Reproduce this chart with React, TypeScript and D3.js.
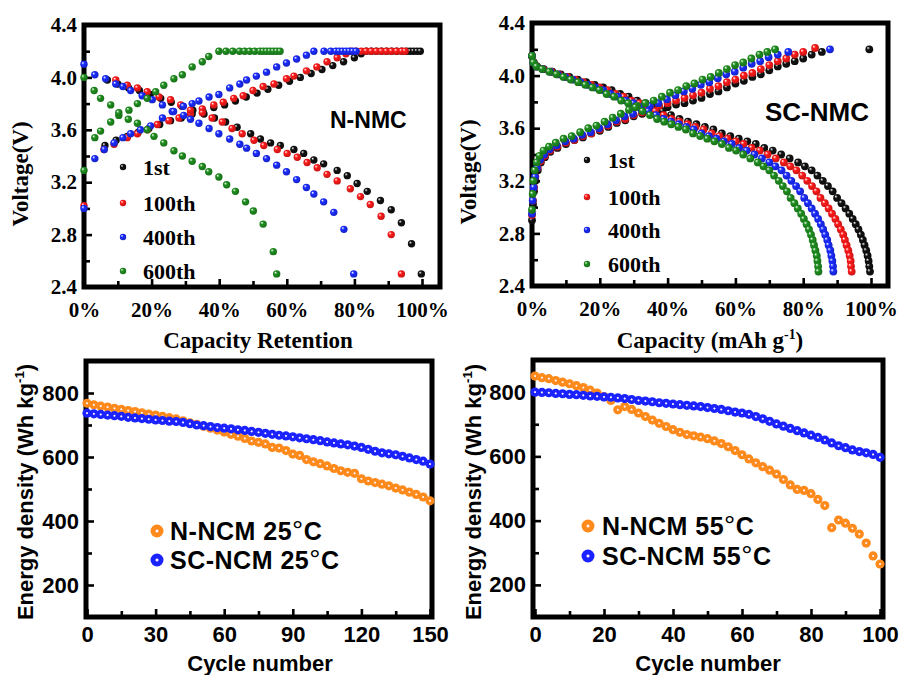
import React, { useEffect, useRef } from "react";
import * as d3 from "d3";

type Pt = [number, number];

// ---------- top left: N-NMC, capacity retention (%) vs voltage (V)
const nmcCharge1st: Pt[] = [[6.2,3.48],[9.5,3.52],[12.8,3.55],[16,3.58],[19.2,3.61],[22.4,3.64],[25.6,3.67],[28.8,3.69],[32,3.72],[35.2,3.74],[38.4,3.77],[41.6,3.79],[44.8,3.82],[48,3.85],[51.2,3.88],[54.4,3.91],[57.6,3.94],[60.8,3.97],[64,4.0],[67.2,4.03],[70.4,4.06],[73.6,4.09],[76.8,4.12],[80,4.15],[82,4.18],[83.5,4.2],[85,4.2],[86.5,4.2],[88,4.2],[89.5,4.2],[91,4.2],[92.5,4.2],[94,4.2],[95.5,4.2],[96.5,4.2],[97.5,4.2],[98.5,4.2],[99.5,4.2]];
const nmcDischarge1st: Pt[] = [[6.9,3.98],[10,3.95],[13.2,3.92],[16.4,3.9],[19.6,3.87],[22.7,3.84],[25.8,3.81],[29,3.78],[32.2,3.75],[35.5,3.72],[38.6,3.69],[41.9,3.66],[45.3,3.62],[49.3,3.57],[52.2,3.53],[55.2,3.5],[58.1,3.48],[62.1,3.45],[65,3.42],[68,3.37],[70.9,3.34],[74.9,3.29],[77.9,3.25],[80.8,3.19],[83.8,3.13],[87.7,3.06],[90.9,2.99],[93.9,2.89],[96.9,2.73],[99.8,2.5]];
const nmcCharge100th: Pt[] = [[0,3.02],[5.9,3.45],[8.9,3.49],[12.8,3.54],[15.8,3.57],[18.8,3.6],[21.7,3.64],[25.1,3.67],[28.1,3.69],[31.5,3.72],[35,3.76],[38.4,3.79],[41.2,3.81],[44.3,3.84],[47.1,3.86],[50,3.9],[53,3.93],[56.2,3.95],[59.9,3.99],[62.1,4.01],[65.8,4.05],[68.9,4.08],[71.9,4.12],[74.9,4.15],[77.5,4.18],[79,4.2],[80.5,4.2],[82,4.2],[83.5,4.2],[85,4.2],[86.5,4.2],[88,4.2],[89.5,4.2],[91,4.2],[92.5,4.2],[94,4.2],[95,4.2]];
const nmcDischarge100th: Pt[] = [[9.4,3.98],[12.8,3.94],[15.8,3.92],[18.7,3.89],[22.2,3.85],[25.6,3.83],[28.6,3.79],[31.5,3.75],[35,3.73],[37.9,3.69],[40.9,3.66],[43.8,3.61],[46.8,3.57],[50.3,3.52],[53.2,3.48],[57.2,3.45],[60.1,3.42],[63.1,3.39],[66,3.35],[69,3.31],[71.9,3.26],[74.9,3.21],[78.8,3.15],[81.8,3.09],[84.7,3.03],[87.9,2.94],[90.9,2.8],[93.9,2.5]];
const nmcCharge400th: Pt[] = [[0,3.0],[3.2,3.38],[6,3.45],[8.9,3.5],[11.5,3.54],[13.8,3.57],[16.7,3.6],[19.7,3.63],[23.2,3.69],[26.1,3.74],[29.4,3.78],[32,3.8],[34,3.82],[37,3.85],[39.9,3.87],[43.1,3.92],[46.1,3.95],[48.1,3.98],[51,4.01],[54,4.04],[57,4.08],[59.9,4.11],[62.9,4.14],[65.8,4.17],[68,4.2],[71,4.2],[73,4.2],[74.5,4.2],[75.5,4.2],[76.5,4.2],[77.5,4.2],[78.5,4.2],[79.5,4.2],[80.5,4.2]];
const nmcDischarge400th: Pt[] = [[0,4.1],[3.2,4.02],[6.4,3.99],[9.4,3.95],[11.5,3.93],[13.8,3.9],[17.2,3.86],[20.2,3.83],[23.2,3.79],[26.5,3.74],[29.5,3.71],[31.5,3.68],[34,3.65],[37,3.61],[39.9,3.57],[43.1,3.53],[46.1,3.49],[48.1,3.46],[51,3.42],[54,3.38],[57,3.33],[59.9,3.28],[62.9,3.22],[65.8,3.16],[68,3.11],[70.9,3.05],[73.9,2.97],[76.9,2.84],[79.8,2.5]];
const nmcCharge600th: Pt[] = [[0,3.29],[3.2,3.54],[4.9,3.59],[7.9,3.66],[10.3,3.71],[13.3,3.75],[15.8,3.8],[18.7,3.84],[21.2,3.89],[23.6,3.94],[26.6,3.99],[29.1,4.02],[32,4.08],[35,4.12],[36.9,4.16],[39.9,4.2],[42,4.2],[44,4.2],[46,4.2],[47.5,4.2],[49,4.2],[50.5,4.2],[52,4.2],[53,4.2],[54,4.2],[55,4.2],[56,4.2],[57,4.2],[58,4.2]];
const nmcDischarge600th: Pt[] = [[0,4.0],[3,3.9],[4.9,3.84],[7.9,3.79],[10.3,3.73],[13.1,3.68],[15.8,3.65],[18.7,3.6],[20.7,3.55],[23.6,3.5],[26.6,3.44],[29.1,3.4],[32,3.36],[35,3.32],[36.9,3.28],[39.9,3.24],[42.2,3.18],[44.8,3.13],[47.8,3.05],[50.1,2.98],[53,2.88],[56,2.67],[57,2.5]];

// ---------- top right: SC-NMC, capacity (%) vs voltage (V)
const scCharge1st: Pt[] = [[0,2.9],[0.3,3.02],[0.6,3.12],[1,3.2],[1.7,3.28],[2.6,3.34],[3.8,3.38],[5.4,3.42],[7.5,3.45],[10,3.48],[12.5,3.51],[15,3.53],[17.5,3.56],[20,3.58],[22.5,3.61],[25,3.64],[27.5,3.66],[30,3.69],[32.5,3.71],[35,3.73],[37.5,3.75],[40,3.76],[42.5,3.78],[45,3.79],[47.5,3.81],[50,3.83],[52.5,3.86],[55,3.88],[57.5,3.91],[60,3.94],[62.5,3.96],[65,3.99],[67.5,4.01],[70,4.04],[72.5,4.07],[75,4.09],[77.5,4.11],[80,4.13],[82.5,4.16],[85.5,4.18],[99.5,4.2]];
const scCharge100th: Pt[] = [[0,2.94],[0.3,3.05],[0.6,3.15],[1,3.23],[1.7,3.3],[2.6,3.35],[3.8,3.39],[5.4,3.43],[7.5,3.46],[10,3.49],[12.5,3.51],[15,3.54],[17.5,3.56],[20,3.59],[22.5,3.62],[25,3.65],[27.5,3.67],[30,3.7],[32.5,3.72],[35,3.75],[37.5,3.77],[40,3.79],[42.5,3.81],[45,3.83],[47.5,3.85],[50,3.87],[52.5,3.9],[55,3.92],[57.5,3.95],[60,3.97],[62.5,4.0],[65,4.02],[67.5,4.05],[70,4.08],[72.5,4.11],[75,4.13],[77.5,4.16],[80,4.18],[83.5,4.21]];
const scCharge400th: Pt[] = [[0,2.95],[0.2,3.05],[0.5,3.15],[0.9,3.23],[1.5,3.3],[2.4,3.36],[3.6,3.4],[5.2,3.44],[7.3,3.47],[9.8,3.5],[12.3,3.52],[14.8,3.55],[17.3,3.57],[19.8,3.6],[22.3,3.63],[24.8,3.66],[27.3,3.69],[29.8,3.71],[32.3,3.74],[34.8,3.77],[37.3,3.79],[39.8,3.82],[42.3,3.85],[44.8,3.88],[47.3,3.9],[49.8,3.93],[52.3,3.95],[54.8,3.98],[57.3,4.01],[59.8,4.03],[62.3,4.06],[64.8,4.09],[67.3,4.11],[69.8,4.14],[72.5,4.16],[75.6,4.18],[87.9,4.2]];
const scCharge600th: Pt[] = [[0,2.98],[0.2,3.1],[0.4,3.2],[0.8,3.28],[1.4,3.34],[2.2,3.39],[3.4,3.43],[5,3.46],[7,3.49],[9.3,3.52],[11.7,3.54],[14.2,3.57],[16.6,3.6],[19,3.62],[21.4,3.65],[23.8,3.68],[26.2,3.71],[28.6,3.74],[31,3.77],[33.4,3.79],[35.9,3.81],[38.3,3.84],[40.7,3.87],[43.1,3.89],[45.5,3.92],[47.9,3.94],[50.3,3.97],[52.7,3.99],[55.1,4.02],[57.5,4.05],[59.9,4.08],[62.3,4.1],[64.7,4.13],[67.1,4.16],[69.4,4.18],[71.7,4.2]];

// discharge: shared voltage readings, capacity read per cycle
const scDischargeV = [4.15,4.1,4.07,4.05,4.03,4.01,3.99,3.97,3.95,3.93,3.91,3.89,3.86,3.84,3.81,3.79,3.76,3.73,3.7,3.67,3.65,3.63,3.61,3.59,3.56,3.54,3.52,3.5,3.48,3.45,3.43,3.4,3.37,3.34,3.31,3.28,3.24,3.2,3.16,3.12,3.07,3.03,2.99,2.95,2.91,2.87,2.83,2.79,2.75,2.71,2.67,2.63,2.59,2.55,2.51];
const scDischargeX1st = [0,0.5,1.5,3.5,6,8.5,11,13.5,16,18.5,21,23.5,26,28.5,31,33.5,36,38.5,41,43.5,46,48.5,51,53.5,56,58.5,61,63.5,66,68.5,71,73.5,76,78.5,80.5,82.5,84.2,85.8,87.3,88.7,90,91.3,92.5,93.6,94.6,95.5,96.3,97,97.6,98.1,98.6,99,99.3,99.5,99.7];
const scDischargeX100th = [0,0.5,1.4,3.3,5.7,8.0,10.4,12.8,15.1,17.5,19.9,22.2,24.6,27.0,29.3,31.7,34.1,36.4,38.8,41.2,43.5,45.9,48.2,50.6,53.0,55.3,57.7,60.1,62.4,64.8,67.2,69.5,71.9,74.3,76.2,78.0,79.7,81.2,82.6,83.9,85.1,86.4,87.5,88.5,89.5,90.3,91.1,91.8,92.3,92.8,93.3,93.7,94.0,94.1,94.3];
const scDischargeX400th = [0,0.4,1.3,3.1,5.4,7.6,9.8,12.0,14.3,16.5,18.7,21.0,23.2,25.4,27.7,29.9,32.1,34.3,36.6,38.8,41.0,43.3,45.5,47.7,50.0,52.2,54.4,56.6,58.9,61.1,63.3,65.6,67.8,70.0,71.8,73.6,75.1,76.5,77.9,79.1,80.3,81.4,82.5,83.5,84.4,85.2,85.9,86.5,87.1,87.5,88.0,88.3,88.6,88.8,88.9];
const scDischargeX600th = [0,0.4,1.3,3.0,5.1,7.2,9.3,11.4,13.6,15.7,17.8,19.9,22.0,24.2,26.3,28.4,30.5,32.6,34.8,36.9,39.0,41.1,43.2,45.4,47.5,49.6,51.7,53.8,56.0,58.1,60.2,62.3,64.4,66.6,68.3,70.0,71.4,72.8,74.0,75.2,76.3,77.4,78.4,79.4,80.2,81.0,81.7,82.3,82.8,83.2,83.6,84.0,84.2,84.4,84.5];

const cycleNames = ["1st", "100th", "400th", "600th"];
const cycleColors = ["#111111", "#ff1a1a", "#1a2cff", "#1f8f1f"];
const pctTicks = [0, 20, 40, 60, 80, 100];
const pctMinor = [10, 30, 50, 70, 90];
const voltTicks = [2.4, 2.8, 3.2, 3.6, 4.0, 4.4];
const voltMinor = [2.6, 3.0, 3.4, 3.8, 4.2];

// ---------- bottom: energy density vs cycle number
const cycles25 = [0,3,6,9,12,15,18,21,24,27,30,33,36,39,42,45,48,51,54,57,60,63,66,69,72,75,78,81,84,87,90,93,96,99,102,105,108,111,114,117,120,123,126,129,132,135,138,141,144,147,150];
const nncm25 = [768,763,759,756,752,749,745,742,738,734,731,727,723,719,713,707,702,696,690,684,678,671,665,658,650,646,641,630,628,620,609,605,592,585,579,572,564,557,552,549,532,525,520,515,510,503,497,490,483,475,463];
const scncm25 = [737,735,733,731,729,727,724,722,720,718,716,714,712,711,708,704,700,698,695,692,690,688,685,683,680,677,674,671,668,666,663,660,657,654,651,647,644,641,638,634,630,624,618,613,610,607,602,597,592,587,578];
const cycles55 = [0,2,4,6,8,10,12,14,16,18,20,22,24,26,28,30,32,34,36,38,40,42,44,46,48,50,52,54,56,58,60,62,64,66,68,70,72,74,76,78,80,82,84,86,88,90,92,94,96,98,100];
const nncm55 = [850,845,842,836,831,826,820,814,806,797,786,774,745,755,746,735,724,713,703,693,683,675,668,664,660,655,648,640,630,618,605,592,580,568,557,545,528,511,497,494,484,466,447,378,402,392,376,358,330,290,265];
const scncm55 = [800,799,798,796,795,793,792,790,788,787,785,784,782,780,777,774,772,770,767,765,763,761,759,757,755,752,749,746,742,738,735,731,724,717,709,701,694,687,680,673,666,659,651,642,633,627,620,615,611,606,597];
const energyTicks = [200, 400, 600, 800];
const energyMinor = [300, 500, 700];

const SERIF = "'Liberation Serif', 'Times New Roman', serif";
const SANS = "'Liberation Sans', Arial, sans-serif";

type PanelCfg = {
  frame: { left: number; right: number; top: number; bottom: number };
  xRange: [number, number];
  yRange: [number, number];
  xDomain: [number, number];
  yDomain: [number, number];
  xTicks: number[]; xMinor: number[];
  yTicks: number[]; yMinor: number[];
};

const panels: PanelCfg[] = [
  { frame: { left: 84, right: 440, top: 25, bottom: 287 }, xRange: [84, 422], yRange: [287, 25],
    xDomain: [0, 100], yDomain: [2.4, 4.4], xTicks: pctTicks, xMinor: pctMinor, yTicks: voltTicks, yMinor: voltMinor },
  { frame: { left: 532, right: 888, top: 23, bottom: 286 }, xRange: [532, 871], yRange: [286, 23],
    xDomain: [0, 100], yDomain: [2.4, 4.4], xTicks: pctTicks, xMinor: pctMinor, yTicks: voltTicks, yMinor: voltMinor },
  { frame: { left: 86, right: 432, top: 361, bottom: 617 }, xRange: [87, 430], yRange: [617, 361],
    xDomain: [0, 150], yDomain: [100, 900], xTicks: [0, 30, 60, 90, 120, 150], xMinor: [15, 45, 75, 105, 135],
    yTicks: energyTicks, yMinor: energyMinor },
  { frame: { left: 533, right: 883, top: 360, bottom: 617 }, xRange: [535, 880], yRange: [617, 360],
    xDomain: [0, 100], yDomain: [100, 900], xTicks: [0, 20, 40, 60, 80, 100], xMinor: [10, 30, 50, 70, 90],
    yTicks: energyTicks, yMinor: energyMinor },
];

type PanelOpts = {
  xFmt: (d: number) => string; yFmt: (d: number) => string;
  font: string; fontSize: number; xPad: number; yPad: number;
  series: { pts: Pt[]; grad: string }[]; r: number;
};

function drawPanel(svg: any, p: PanelCfg, o: PanelOpts) {
  const g = svg.append("g");
  const x = d3.scaleLinear().domain(p.xDomain).range(p.xRange);
  const y = d3.scaleLinear().domain(p.yDomain).range(p.yRange);
  const f = p.frame;

  const styleAxis = (s: any) => {
    s.select(".domain").remove();
    s.selectAll(".tick line").attr("stroke", "#000").attr("stroke-width", 2.6);
    s.selectAll("text")
      .attr("font-family", o.font).attr("font-size", o.fontSize)
      .attr("font-weight", "bold").attr("fill", "#000");
  };

  // minor ticks (inward, no labels)
  g.append("g").attr("transform", `translate(0,${f.bottom})`)
    .call(d3.axisBottom(x).tickValues(p.xMinor).tickSize(-6).tickFormat(() => ""))
    .call(styleAxis);
  g.append("g").attr("transform", `translate(${f.left},0)`)
    .call(d3.axisLeft(y).tickValues(p.yMinor).tickSize(-6).tickFormat(() => ""))
    .call(styleAxis);
  // major ticks with labels
  g.append("g").attr("transform", `translate(0,${f.bottom})`)
    .call(d3.axisBottom(x).tickValues(p.xTicks).tickSize(-8).tickPadding(o.xPad).tickFormat((d: any) => o.xFmt(d)))
    .call(styleAxis);
  g.append("g").attr("transform", `translate(${f.left},0)`)
    .call(d3.axisLeft(y).tickValues(p.yTicks).tickSize(-8).tickPadding(o.yPad).tickFormat((d: any) => o.yFmt(d)))
    .call(styleAxis);

  // thick box
  g.append("rect")
    .attr("x", f.left).attr("y", f.top)
    .attr("width", f.right - f.left).attr("height", f.bottom - f.top)
    .attr("fill", "none").attr("stroke", "#000").attr("stroke-width", 5);

  o.series.forEach((s) => {
    g.append("g").selectAll("circle").data(s.pts).join("circle")
      .attr("cx", (d: Pt) => x(d[0])).attr("cy", (d: Pt) => y(d[1]))
      .attr("r", o.r).attr("fill", `url(#${s.grad})`);
  });
}

function addText(svg: any, x: number, y: number, size: number, font: string, parts: [string, boolean][], anchor = "middle", rotate = false) {
  const t = svg.append("text")
    .attr("x", x).attr("y", y)
    .attr("font-family", font).attr("font-size", size).attr("font-weight", "bold")
    .attr("text-anchor", anchor).attr("dy", "0.35em").attr("fill", "#000");
  if (rotate) t.attr("transform", `rotate(-90 ${x} ${y})`);
  parts.forEach(([s, sup]) => {
    const ts = t.append("tspan").text(s);
    if (sup) ts.attr("font-size", size * 0.6).attr("dy", -size * 0.4);
    else if (s.startsWith(")")) ts.attr("dy", size * 0.4);
  });
  return t;
}

export default function App() {
  const ref = useRef<SVGSVGElement | null>(null);

  useEffect(() => {
    const svg = d3.select(ref.current);
    svg.selectAll("*").remove();

    // shaded ball markers
    const defs = svg.append("defs");
    cycleColors.forEach((col, i) => {
      const gr = defs.append("radialGradient").attr("id", `sph${i}`)
        .attr("cx", "0.45").attr("cy", "0.45").attr("r", "0.6").attr("fx", "0.32").attr("fy", "0.3");
      gr.append("stop").attr("offset", "0").attr("stop-color", "#ffffff");
      gr.append("stop").attr("offset", "0.35").attr("stop-color", col);
      gr.append("stop").attr("offset", "1").attr("stop-color", d3.color(col)!.darker(0.8).toString());
    });
    const ringColors = { orange: "#ff8a1c", blue: "#1a22ff" };
    Object.entries(ringColors).forEach(([k, col]) => {
      const gr = defs.append("radialGradient").attr("id", `ring-${k}`)
        .attr("cx", "0.5").attr("cy", "0.5").attr("r", "0.5");
      gr.append("stop").attr("offset", "0").attr("stop-color", "#ffffff");
      gr.append("stop").attr("offset", "0.12").attr("stop-color", "#fdeff6");
      gr.append("stop").attr("offset", "0.32").attr("stop-color", col);
      gr.append("stop").attr("offset", "1").attr("stop-color", col);
    });

    const pctFmt = (d: number) => `${d}%`;
    const vFmt = d3.format(".1f");
    const intFmt = d3.format("d");
    const zipV = (xs: number[]) => xs.map((v, i) => [v, scDischargeV[i]] as Pt);

    drawPanel(svg, panels[0], {
      xFmt: pctFmt, yFmt: vFmt, font: SERIF, fontSize: 21, xPad: 15, yPad: 7, r: 3.7,
      series: [
        { pts: nmcCharge1st, grad: "sph0" }, { pts: nmcDischarge1st, grad: "sph0" },
        { pts: nmcCharge100th, grad: "sph1" }, { pts: nmcDischarge100th, grad: "sph1" },
        { pts: nmcCharge400th, grad: "sph2" }, { pts: nmcDischarge400th, grad: "sph2" },
        { pts: nmcCharge600th, grad: "sph3" }, { pts: nmcDischarge600th, grad: "sph3" },
      ],
    });
    drawPanel(svg, panels[1], {
      xFmt: pctFmt, yFmt: vFmt, font: SERIF, fontSize: 21, xPad: 15, yPad: 7, r: 3.9,
      series: [
        { pts: scCharge1st, grad: "sph0" }, { pts: zipV(scDischargeX1st), grad: "sph0" },
        { pts: scCharge100th, grad: "sph1" }, { pts: zipV(scDischargeX100th), grad: "sph1" },
        { pts: scCharge400th, grad: "sph2" }, { pts: zipV(scDischargeX400th), grad: "sph2" },
        { pts: scCharge600th, grad: "sph3" }, { pts: zipV(scDischargeX600th), grad: "sph3" },
      ],
    });
    drawPanel(svg, panels[2], {
      xFmt: intFmt, yFmt: intFmt, font: SANS, fontSize: 22, xPad: 9, yPad: 7, r: 4.6,
      series: [
        { pts: cycles25.map((c, i) => [c, nncm25[i]] as Pt), grad: "ring-orange" },
        { pts: cycles25.map((c, i) => [c, scncm25[i]] as Pt), grad: "ring-blue" },
      ],
    });
    drawPanel(svg, panels[3], {
      xFmt: intFmt, yFmt: intFmt, font: SANS, fontSize: 22, xPad: 9, yPad: 7, r: 4.6,
      series: [
        { pts: cycles55.map((c, i) => [c, nncm55[i]] as Pt), grad: "ring-orange" },
        { pts: cycles55.map((c, i) => [c, scncm55[i]] as Pt), grad: "ring-blue" },
      ],
    });

    // axis titles
    addText(svg, 20, 174, 23, SERIF, [["Voltage(V)", false]], "middle", true);
    addText(svg, 468, 172, 23, SERIF, [["Voltage(V)", false]], "middle", true);
    addText(svg, 258, 340, 23, SERIF, [["Capacity Retention", false]]);
    addText(svg, 710, 340, 23, SERIF, [["Capacity (mAh g", false], ["-1", true], [")", false]]);
    addText(svg, 25, 492, 22, SANS, [["Energy density (Wh kg", false], ["-1", true], [")", false]], "middle", true);
    addText(svg, 473, 492, 22, SANS, [["Energy density (Wh kg", false], ["-1", true], [")", false]], "middle", true);
    addText(svg, 260, 663, 22, SANS, [["Cycle number", false]]);
    addText(svg, 708, 663, 22, SANS, [["Cycle number", false]]);

    // panel labels
    addText(svg, 330, 120, 23, SANS, [["N-NMC", false]], "start");
    addText(svg, 765, 112, 26, SANS, [["SC-NMC", false]], "start");

    // top legends
    const legTop = (mx: number, tx: number, ys: number[]) => {
      cycleNames.forEach((name, i) => {
        svg.append("circle").attr("cx", mx).attr("cy", ys[i]).attr("r", 3.2).attr("fill", `url(#sph${i})`);
        addText(svg, tx, ys[i], 22, SERIF, [[name, false]], "start");
      });
    };
    legTop(123, 143, [167, 203, 237, 271]);
    legTop(587, 608, [160, 197, 230, 264]);

    // bottom legends
    const legBottom = (mx: number, tx: number, ys: number[], temp: string) => {
      const names = ["N-NCM", "SC-NCM"];
      const grads = ["ring-orange", "ring-blue"];
      names.forEach((n, i) => {
        svg.append("circle").attr("cx", mx).attr("cy", ys[i]).attr("r", 6.5).attr("fill", `url(#${grads[i]})`);
        const t = addText(svg, tx, ys[i], 25, SANS, [[`${n} ${temp}`, false]], "start");
        t.attr("letter-spacing", 0.5);
        t.append("tspan").text("\u00B0").attr("font-weight", "normal").attr("font-size", 28);
        t.append("tspan").text("C");
      });
    };
    legBottom(157, 170, [531, 560], "25");
    legBottom(588, 602, [526, 556], "55");
  }, []);

  return (
    <svg ref={ref} width={899} height={675}
      style={{ position: "absolute", left: 0, top: 0, display: "block", background: "#fff" }} />
  );
}
